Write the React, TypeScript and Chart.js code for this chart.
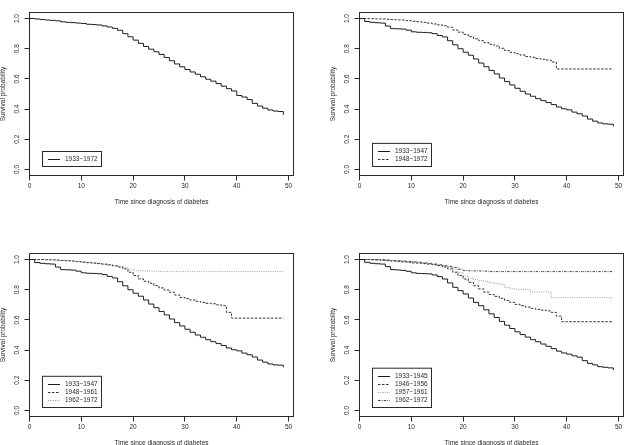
import React, { useEffect, useRef } from "react";
import { Chart, registerables } from "chart.js";

Chart.register(...registerables);

// Years since diagnosis at which the Kaplan–Meier estimates are reported
const years = [
  0, 1, 2, 3, 4, 5, 6, 7, 8, 9, 10, 11, 12, 13, 14, 15, 16, 17, 18, 19, 20, 21, 22, 23, 24,
  25, 26, 27, 28, 29, 30, 31, 32, 33, 34, 35, 36, 37, 38, 39, 40, 41, 42, 43, 44, 45, 46, 47,
  48, 49,
];

const xTicks = [0, 10, 20, 30, 40, 50];
const yTicks = [0, 0.2, 0.4, 0.6, 0.8, 1.0];

const xTitle = "Time since diagnosis of diabetes";
const yTitle = "Survival probability";

// All patients, 1933–1972
const surv1933to1972 = [
  1.0, 0.997, 0.994, 0.99, 0.988, 0.985, 0.978, 0.975, 0.973, 0.97, 0.967, 0.962, 0.96, 0.957,
  0.951, 0.944, 0.935, 0.922, 0.9, 0.879, 0.857, 0.836, 0.815, 0.797, 0.78, 0.762, 0.742, 0.72,
  0.699, 0.68, 0.662, 0.646, 0.631, 0.614, 0.598, 0.585, 0.569, 0.552, 0.535, 0.52, 0.49, 0.48,
  0.463, 0.438, 0.42, 0.406, 0.394, 0.387, 0.384, 0.362,
];

// Two diagnosis periods
const surv1933to1947 = [
  1.0, 0.98, 0.975, 0.972, 0.97, 0.95, 0.933, 0.932, 0.93, 0.923, 0.912, 0.909, 0.908, 0.906,
  0.9, 0.888, 0.878, 0.853, 0.826, 0.8, 0.777, 0.757, 0.732, 0.705, 0.681, 0.656, 0.633, 0.606,
  0.582, 0.56, 0.538, 0.518, 0.5, 0.485, 0.469, 0.456, 0.443, 0.43, 0.414, 0.402, 0.395, 0.38,
  0.369, 0.354, 0.334, 0.32, 0.308, 0.302, 0.3, 0.286,
];
const surv1948to1972 = [
  1.0, 1.0, 0.999, 0.998, 0.997, 0.995, 0.993, 0.991, 0.99, 0.986, 0.982, 0.979, 0.975, 0.97,
  0.964, 0.958, 0.952, 0.943, 0.924, 0.91, 0.895, 0.88, 0.866, 0.853, 0.84, 0.829, 0.818, 0.803,
  0.788, 0.776, 0.767, 0.758, 0.748, 0.743, 0.735, 0.73, 0.725, 0.712, 0.666, 0.666, 0.666,
  0.666, 0.666, 0.666, 0.666, 0.666, 0.666, 0.666, 0.666, 0.666,
];

// Three diagnosis periods
const surv1948to1961 = [
  1.0, 1.0, 1.0, 0.999, 0.998, 0.996, 0.994, 0.992, 0.99, 0.986, 0.982, 0.979, 0.976, 0.973,
  0.969, 0.965, 0.958, 0.951, 0.938, 0.916, 0.894, 0.872, 0.856, 0.843, 0.827, 0.812, 0.798,
  0.783, 0.765, 0.749, 0.741, 0.732, 0.723, 0.716, 0.71, 0.707, 0.7, 0.694, 0.65, 0.612, 0.612,
  0.612, 0.612, 0.612, 0.612, 0.612, 0.612, 0.612, 0.612, 0.612,
];
const surv1962to1972 = [
  1.0, 1.0, 1.0, 0.999, 0.998, 0.996, 0.994, 0.992, 0.99, 0.987, 0.985, 0.982, 0.978, 0.975,
  0.97, 0.965, 0.96, 0.955, 0.948, 0.936, 0.928, 0.925, 0.925, 0.924, 0.923, 0.92, 0.92, 0.92,
  0.92, 0.92, 0.92, 0.92, 0.92, 0.92, 0.92, 0.92, 0.92, 0.92, 0.92, 0.92, 0.92, 0.92, 0.92, 0.92,
  0.92, 0.92, 0.92, 0.92, 0.92, 0.92,
];

// Four diagnosis periods
const surv1933to1945 = [
  1.0, 0.982, 0.975, 0.972, 0.97, 0.953, 0.933, 0.931, 0.928, 0.922, 0.912, 0.908, 0.907, 0.905,
  0.898, 0.887, 0.871, 0.845, 0.816, 0.794, 0.772, 0.745, 0.716, 0.694, 0.667, 0.64, 0.616, 0.59,
  0.565, 0.543, 0.521, 0.503, 0.486, 0.469, 0.455, 0.44, 0.425, 0.41, 0.393, 0.381, 0.373, 0.362,
  0.353, 0.33, 0.312, 0.302, 0.29, 0.286, 0.282, 0.268,
];
const surv1946to1956 = [
  1.0, 1.0, 0.999, 0.998, 0.996, 0.993, 0.99, 0.988, 0.985, 0.982, 0.978, 0.976, 0.973, 0.97,
  0.965, 0.96, 0.95, 0.938, 0.916, 0.894, 0.871, 0.849, 0.827, 0.805, 0.784, 0.768, 0.756, 0.743,
  0.729, 0.716, 0.703, 0.694, 0.685, 0.677, 0.67, 0.665, 0.66, 0.65, 0.625, 0.588, 0.588, 0.588,
  0.588, 0.588, 0.588, 0.588, 0.588, 0.588, 0.588, 0.588,
];
const surv1957to1961 = [
  1.0, 1.0, 1.0, 0.999, 0.998, 0.996, 0.994, 0.992, 0.99, 0.987, 0.984, 0.981, 0.977, 0.973,
  0.968, 0.962, 0.956, 0.948, 0.935, 0.914, 0.89, 0.876, 0.866, 0.86, 0.855, 0.846, 0.84, 0.835,
  0.816, 0.806, 0.803, 0.803, 0.802, 0.785, 0.785, 0.785, 0.785, 0.747, 0.747, 0.747, 0.747,
  0.747, 0.747, 0.747, 0.747, 0.747, 0.747, 0.747, 0.747, 0.747,
];

type Curve = { label: string; values: number[]; color: string; dash: number[] };

const SOLID: number[] = [];
const DASHED = [2.5, 1.5];
const DOTTED = [1, 1.3];
const DOTDASH = [2.5, 1.2, 0.8, 1.2];

const panels: Curve[][] = [
  [{ label: "1933−1972", values: surv1933to1972, color: "#1e1e1e", dash: SOLID }],
  [
    { label: "1933−1947", values: surv1933to1947, color: "#1e1e1e", dash: SOLID },
    { label: "1948−1972", values: surv1948to1972, color: "#333", dash: DASHED },
  ],
  [
    { label: "1933−1947", values: surv1933to1947, color: "#1e1e1e", dash: SOLID },
    { label: "1948−1961", values: surv1948to1961, color: "#333", dash: DASHED },
    { label: "1962−1972", values: surv1962to1972, color: "#9a9a9a", dash: DOTTED },
  ],
  [
    { label: "1933−1945", values: surv1933to1945, color: "#1e1e1e", dash: SOLID },
    { label: "1946−1956", values: surv1946to1956, color: "#333", dash: DASHED },
    { label: "1957−1961", values: surv1957to1961, color: "#9a9a9a", dash: DOTTED },
    { label: "1962−1972", values: surv1962to1972, color: "#444", dash: DOTDASH },
  ],
];

const PANEL_W = 330;
const PANEL_H = 241;
const FONT_FAMILY = "'Liberation Sans', Arial, Helvetica, sans-serif";
const FONT_SIZE = 6.5;
const INK = "#2a2a2a";

// Closed frame around the plotting region
const framePlugin = {
  id: "frame",
  afterDatasetsDraw(chart: any) {
    const { ctx, chartArea: a } = chart;
    ctx.save();
    ctx.strokeStyle = INK;
    ctx.lineWidth = 1;
    ctx.setLineDash([]);
    ctx.strokeRect(a.left, a.top, a.right - a.left, a.bottom - a.top);
    ctx.restore();
  },
};

// Boxed key in the lower-left corner, one row per dataset
const keyPlugin = {
  id: "keyBox",
  afterDraw(chart: any) {
    const { ctx, chartArea: a } = chart;
    const sets = chart.data.datasets;
    const n = sets.length;
    const rowGap = 8.1;
    const w = 59;
    const h = 15 + rowGap * (n - 1);
    const left = a.left + 13;
    const bottom = a.bottom - 9;
    const top = bottom - h;
    ctx.save();
    ctx.fillStyle = "#fff";
    ctx.fillRect(left, top, w, h);
    ctx.strokeStyle = INK;
    ctx.lineWidth = 1;
    ctx.setLineDash([]);
    ctx.strokeRect(left, top, w, h);
    ctx.font = `${FONT_SIZE}px ${FONT_FAMILY}`;
    ctx.textBaseline = "middle";
    ctx.textAlign = "left";
    sets.forEach((ds: any, i: number) => {
      const y = Math.round(top + 7.5 + rowGap * i) + 0.5;
      ctx.strokeStyle = ds.borderColor;
      ctx.setLineDash(ds.borderDash || []);
      ctx.beginPath();
      ctx.moveTo(left + 5.5, y);
      ctx.lineTo(left + 17.5, y);
      ctx.stroke();
      ctx.fillStyle = INK;
      ctx.fillText(ds.label, left + 22.5, y);
    });
    ctx.restore();
  },
};

function SurvivalPanel({ curves }: { curves: Curve[] }) {
  const ref = useRef<HTMLCanvasElement>(null);

  useEffect(() => {
    if (!ref.current) return;
    const font = { family: FONT_FAMILY, size: FONT_SIZE, lineHeight: 1 };
    const chart = new Chart(ref.current, {
      type: "line",
      data: {
        datasets: curves.map((c) => ({
          label: c.label,
          data: years.map((t, i) => ({ x: t, y: c.values[i] })),
          borderColor: c.color,
          borderWidth: 1,
          borderDash: c.dash,
          stepped: true,
          pointRadius: 0,
          fill: false,
        })),
      },
      options: {
        animation: false,
        responsive: false,
        devicePixelRatio: 1,
        events: [],
        layout: { padding: { left: 0, top: 12.5, right: 36.5, bottom: 0 } },
        plugins: { legend: { display: false }, tooltip: { enabled: false } },
        scales: {
          x: {
            type: "linear",
            min: 0,
            max: 50.96,
            afterBuildTicks: (s: any) => {
              s.ticks = xTicks.map((v) => ({ value: v }));
            },
            afterFit: (s: any) => {
              s.height = PANEL_H - 175.5;
            },
            border: { display: false },
            grid: { drawOnChartArea: false, drawTicks: true, tickLength: 5, color: INK, lineWidth: 1 },
            ticks: {
              font,
              color: INK,
              padding: 2.5,
              autoSkip: false,
              maxRotation: 0,
              callback: (v: any) => String(v),
            },
            title: { display: true, text: xTitle, font, color: INK, padding: { top: 0, bottom: 35.5 } },
          },
          y: {
            type: "linear",
            min: -0.04,
            max: 1.04,
            afterBuildTicks: (s: any) => {
              s.ticks = yTicks.map((v) => ({ value: v }));
            },
            afterFit: (s: any) => {
              s.width = 29.5;
            },
            border: { display: false },
            grid: { drawOnChartArea: false, drawTicks: true, tickLength: 5, color: INK, lineWidth: 1 },
            ticks: {
              font,
              color: INK,
              padding: 2.5,
              autoSkip: false,
              minRotation: 90,
              maxRotation: 90,
              crossAlign: "center",
              callback: (v: any) => Number(v).toFixed(1),
            },
            title: { display: true, text: yTitle, font, color: INK, padding: { top: -0.5, bottom: 0 } },
          },
        },
      } as any,
      plugins: [framePlugin, keyPlugin],
    });
    return () => chart.destroy();
  }, [curves]);

  return <canvas ref={ref} width={PANEL_W} height={PANEL_H} style={{ display: "block", width: PANEL_W, height: PANEL_H }} />;
}

export default function App() {
  return (
    <div
      style={{
        position: "absolute",
        left: 0,
        top: 0,
        width: 629,
        height: 445,
        overflow: "hidden",
        background: "#fff",
      }}
    >
      {panels.map((curves, i) => (
        <div
          key={i}
          style={{
            position: "absolute",
            left: (i % 2) * PANEL_W,
            top: Math.floor(i / 2) * PANEL_H,
            width: PANEL_W,
            height: PANEL_H,
          }}
        >
          <SurvivalPanel curves={curves} />
        </div>
      ))}
    </div>
  );
}
